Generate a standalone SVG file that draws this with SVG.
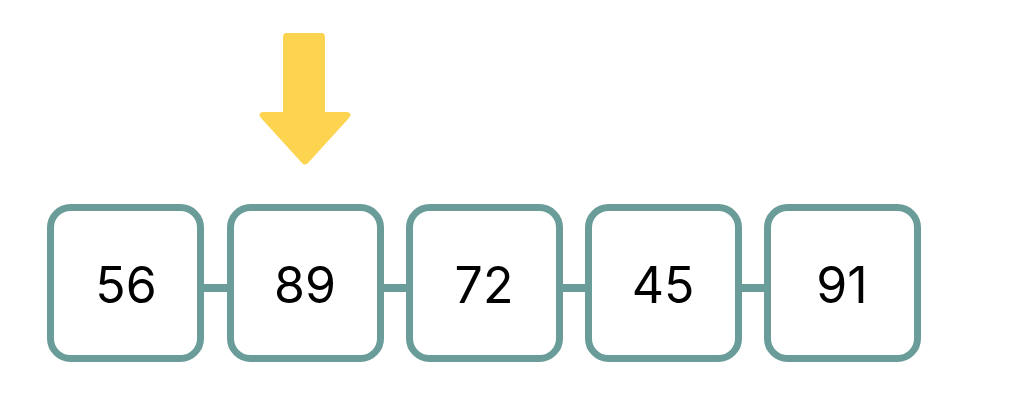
<svg xmlns="http://www.w3.org/2000/svg" width="1024" height="401" viewBox="0 0 1024 401">
<style>
.box{fill:#fff;stroke:#6a9c9a;stroke-width:7}
.conn{stroke:#6a9c9a;stroke-width:8}
.lbl{font-family:Inter,"Open Sans","Liberation Sans",sans-serif;font-size:50px;fill:#000;text-anchor:middle;dominant-baseline:central}
</style>
<rect width="1024" height="401" fill="#fff"/>
<g id="connectors">
<line class="conn" x1="200" y1="288" x2="231" y2="288"/>
<line class="conn" x1="380" y1="288" x2="410" y2="288"/>
<line class="conn" x1="559" y1="288" x2="589" y2="288"/>
<line class="conn" x1="738" y1="288" x2="768" y2="288"/>
</g>
<g id="pointer">
<path d="M287 33 H321 Q325 33 325 37 V112 H347 Q353 113 349 118 L308 163 Q305 166 302 163 L261 118 Q257 113 263 112 H283 V37 Q283 33 287 33 Z" fill="#fdd44f"/>
</g>
<g id="n1"><rect class="box" x="50.5" y="207.5" width="150" height="151" rx="20"/><text class="lbl" x="126" y="285">56</text></g>
<g id="n2"><rect class="box" x="230.5" y="207.5" width="150" height="151" rx="20"/><text class="lbl" x="305" y="285">89</text></g>
<g id="n3"><rect class="box" x="409.5" y="207.5" width="150" height="151" rx="20"/><text class="lbl" x="484" y="285">72</text></g>
<g id="n4"><rect class="box" x="588.5" y="207.5" width="150" height="151" rx="20"/><text class="lbl" x="663" y="285">45</text></g>
<g id="n5"><rect class="box" x="767.5" y="207.5" width="150" height="151" rx="20"/><text class="lbl" x="842" y="285">91</text></g>
</svg>
